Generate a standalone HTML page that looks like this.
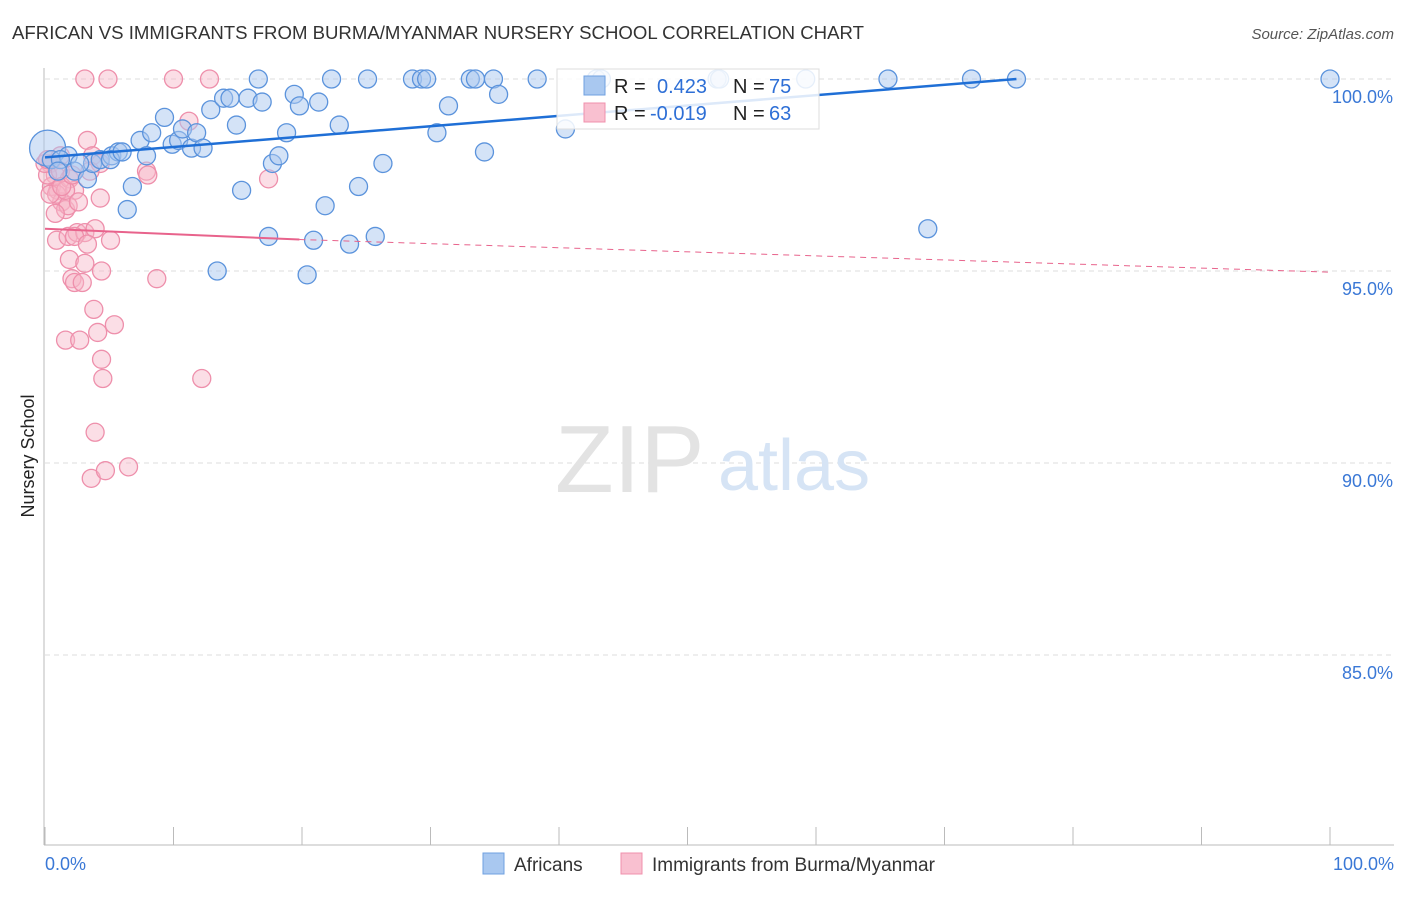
<!DOCTYPE html>
<html><head><meta charset="utf-8"><style>
body{margin:0;background:#fff;font-family:"Liberation Sans",sans-serif;}
svg text{font-family:"Liberation Sans",sans-serif;}
</style></head><body>
<svg id="chart" width="1406" height="892">
<text x="12" y="39" font-size="18.6" fill="#333">AFRICAN VS IMMIGRANTS FROM BURMA/MYANMAR NURSERY SCHOOL CORRELATION CHART</text>
<text x="1394" y="39" font-size="15" fill="#555" font-style="italic" text-anchor="end">Source: ZipAtlas.com</text>
<text x="34" y="456" font-size="18" fill="#222" transform="rotate(-90 34 456)" text-anchor="middle">Nursery School</text>
<g id="grid"></g>
<text x="555" y="492" font-size="96" fill="#e3e3e3" font-family="Liberation Serif">ZIP</text>
<text x="718" y="490" font-size="72" fill="#d6e4f5">atlas</text>
<g id="marks"></g>
<g id="lines"></g>
<g>
<rect x="557" y="69" width="262" height="60" fill="#fff" fill-opacity="0.85" stroke="#ddd"/>
<rect x="584" y="76" width="21" height="19" fill="#a9c8f0" stroke="#6fa0e0"/>
<rect x="584" y="103" width="21" height="19" fill="#f9c0d0" stroke="#f090ac"/>
<text x="614" y="93" font-size="20" fill="#222">R =</text>
<text x="657" y="93" font-size="20" fill="#2e6fd6">0.423</text>
<text x="733" y="93" font-size="20" fill="#222">N =</text>
<text x="769" y="93" font-size="20" fill="#2e6fd6">75</text>
<text x="614" y="120" font-size="20" fill="#222">R =</text>
<text x="650" y="120" font-size="20" fill="#2e6fd6">-0.019</text>
<text x="733" y="120" font-size="20" fill="#222">N =</text>
<text x="769" y="120" font-size="20" fill="#2e6fd6">63</text>
</g>
<g>
<rect x="483" y="853" width="21" height="21" fill="#a9c8f0" stroke="#6fa0e0"/>
<text x="514" y="871" font-size="19" fill="#333">Africans</text>
<rect x="621" y="853" width="21" height="21" fill="#f9c0d0" stroke="#f090ac"/>
<text x="652" y="871" font-size="19" fill="#333">Immigrants from Burma/Myanmar</text>
</g>
</svg>
<script>
const yTicks=[100,95,90,85];
const xTickLabels=["0.0%","100.0%"];
const blueX=[0.2,0.5,1.8,2.3,3.3,3.7,4.3,5.2,5.7,6.8,6.4,7.4,7.9,8.3,9.3,9.9,10.4,10.7,11.4,11.8,12.3,12.9,13.4,13.9,14.4,14.9,15.3,15.8,16.6,16.9,17.4,17.7,18.2,18.8,19.4,19.8,20.4,20.9,21.3,21.8,22.3,22.9,23.7,24.4,25.1,25.7,26.3,28.6,29.3,29.7,30.5,31.4,33.1,33.5,34.2,34.9,35.3,38.3,40.5,42.9,43.3,52.3,52.5,59.2,65.6,68.7,72.1,75.6,100,2.7,1.2,1.0,5.1,6.0];
const blueY=[98.2,97.9,98.0,97.6,97.4,97.8,97.9,98.0,98.1,97.2,96.6,98.4,98.0,98.6,99.0,98.3,98.4,98.7,98.2,98.6,98.2,99.2,95.0,99.5,99.5,98.8,97.1,99.5,100,99.4,95.9,97.8,98.0,98.6,99.6,99.3,94.9,95.8,99.4,96.7,100,98.8,95.7,97.2,100,95.9,97.8,100,100,100,98.6,99.3,100,100,98.1,100,99.6,100,98.7,100,100,100,100,100,100,96.1,100,100,100,97.8,97.9,97.6,97.9,98.1];
const pinkX=[0.4,0.8,0.5,1.0,1.3,1.6,0.2,0.9,1.9,2.3,1.8,1.2,3.1,4.9,10.0,12.8,3.3,3.7,4.3,4.3,7.9,8.0,11.2,17.4,0.9,1.8,2.5,3.1,3.9,2.3,5.1,3.3,1.9,3.1,4.4,2.1,2.3,2.9,8.7,3.8,4.1,5.4,1.6,2.7,4.4,4.5,12.2,3.9,3.6,4.7,6.5,0,0.4,0.8,1.6,2.6,1.3,2.1,3.5,0.2,1.2];
const pinkY=[97.8,97.5,97.2,97.1,96.8,96.6,97.5,97.0,97.4,97.1,96.7,97.6,100,100,100,100,98.4,98.0,97.8,96.9,97.6,97.5,98.9,97.4,95.8,95.9,96.0,96.0,96.1,95.9,95.8,95.7,95.3,95.2,95.0,94.8,94.7,94.7,94.8,94.0,93.4,93.6,93.2,93.2,92.7,92.2,92.2,90.8,89.6,89.8,89.9,97.8,97.0,96.5,97.1,96.8,97.2,97.5,97.6,97.9,98.0];
const blueTrend=[[0,97.96],[75.6,100]];
const pinkTrend=[[0,96.1],[19.8,95.82],[100,94.97]];
const NS='http://www.w3.org/2000/svg';
const sx=v=>45+v*12.85, sy=v=>79+(100-v)*38.4;
function mk(t,a,p){const e=document.createElementNS(NS,t);for(const k in a)e.setAttribute(k,a[k]);p.appendChild(e);return e;}
const grid=document.getElementById('grid');
yTicks.forEach(t=>{
 const l=mk('line',{x1:45,x2:1394,y1:sy(t),y2:sy(t),stroke:'#ddd','stroke-dasharray':'5,4'},grid);
 
 
 const tx=mk('text',{x:1393,y:sy(t)+24,'font-size':18,fill:'#3a78d6','text-anchor':'end'},grid);
 tx.textContent=t.toFixed(1)+'%';
 
 
});
const ax=mk('line',{x1:44,x2:44,y1:68,y2:845,stroke:'#bbb'},grid);


const bx=mk('line',{x1:44,x2:1394,y1:845,y2:845,stroke:'#bbb'},grid);


for(let i=0;i<=10;i++){const t=mk('line',{x1:sx(i*10),x2:sx(i*10),y1:827,y2:845,stroke:'#bbb'},grid);
 
 }
[[0,'start',45],[1,'end',1394]].forEach(([i,a,x])=>{const t=mk('text',{x:x,y:870,'font-size':18,fill:'#3a78d6','text-anchor':a},grid);t.textContent=xTickLabels[i];
 
 });
const marks=document.getElementById('marks');
pinkX.forEach((x,i)=>{const c=mk('circle',{cx:sx(x),cy:sy(pinkY[i]),r:9,fill:'#f7b6c8','fill-opacity':0.45,stroke:'#ee8fab','stroke-width':1.3},marks);
 
 });
blueX.forEach((x,i)=>{const c=mk('circle',{cx:sx(x),cy:sy(blueY[i]),r:i==0?18:9,fill:'#a9c8f0','fill-opacity':0.5,stroke:'#5b93dc','stroke-width':1.3},marks);
 
 });
const lines=document.getElementById('lines');
const bl=mk('line',{x1:sx(blueTrend[0][0]),y1:sy(blueTrend[0][1]),x2:sx(blueTrend[1][0]),y2:sy(blueTrend[1][1]),stroke:'#1f6fd6','stroke-width':2.5},lines);


const p1=mk('line',{x1:sx(pinkTrend[0][0]),y1:sy(pinkTrend[0][1]),x2:sx(pinkTrend[1][0]),y2:sy(pinkTrend[1][1]),stroke:'#e8638c','stroke-width':2},lines);


const p2=mk('line',{x1:sx(pinkTrend[1][0]),y1:sy(pinkTrend[1][1]),x2:sx(pinkTrend[2][0]),y2:sy(pinkTrend[2][1]),stroke:'#e8638c','stroke-width':1,'stroke-dasharray':'6,5'},lines);


</script>
</body></html>
